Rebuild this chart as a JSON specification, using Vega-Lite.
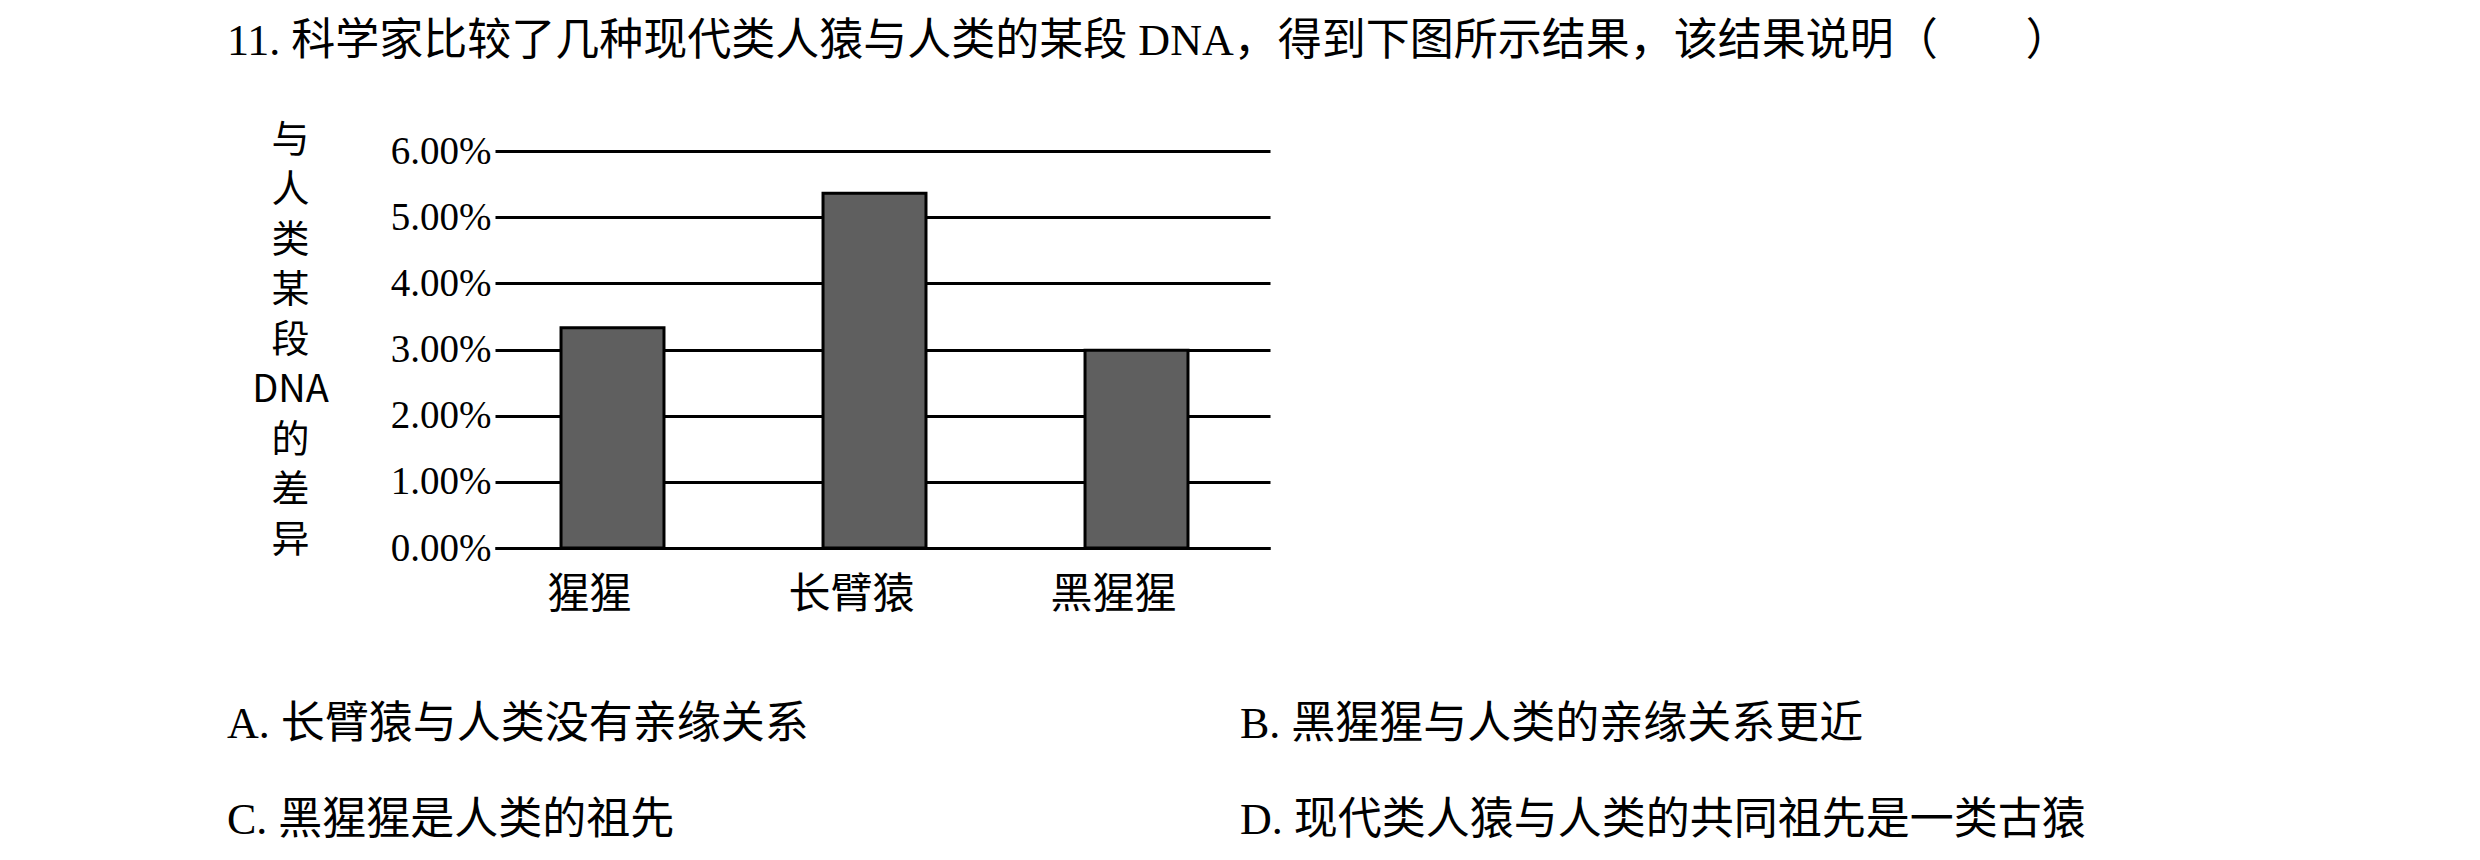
{
  "$schema": "https://vega.github.io/schema/vega-lite/v6.json",
  "background": "white",
  "padding": {"left": 227, "top": 20, "right": 10, "bottom": 10},
  "config": {"view": {"stroke": null}},
  "title": {
    "text": "11. 科学家比较了几种现代类人猿与人类的某段 DNA，得到下图所示结果，该结果说明（　　）",
    "anchor": "start",
    "frame": "bounds",
    "font": "Liberation Serif, Noto Sans CJK SC",
    "fontSize": 44,
    "fontWeight": "normal",
    "color": "black",
    "offset": 57
  },
  "datasets": {
    "bars": [
      {"species": "猩猩", "diff": 0.0333},
      {"species": "长臂猿", "diff": 0.0536},
      {"species": "黑猩猩", "diff": 0.0299}
    ],
    "options": [
      {"label": "A. 长臂猿与人类没有亲缘关系", "col": 0, "row": 0},
      {"label": "B. 黑猩猩与人类的亲缘关系更近", "col": 1, "row": 0},
      {"label": "C. 黑猩猩是人类的祖先", "col": 0, "row": 1},
      {"label": "D. 现代类人猿与人类的共同祖先是一类古猿", "col": 1, "row": 1}
    ]
  },
  "spacing": 88,
  "vconcat": [
    {
      "width": 775,
      "height": 397,
      "data": {"name": "bars"},
      "mark": {"type": "bar", "color": "#5f5f5f", "stroke": "black", "strokeWidth": 3},
      "encoding": {
        "x": {
          "field": "species", "type": "nominal", "sort": null,
          "scale": {"paddingInner": 0.607, "paddingOuter": 0.2825, "align": 0.446},
          "axis": {
            "title": null, "labelAngle": 0, "labelFont": "Noto Sans CJK SC", "labelFontSize": 42,
            "labelColor": "black", "ticks": false, "labelPadding": 26, "labelOffset": -23,
            "domainColor": "black", "domainWidth": 3, "grid": false
          }
        },
        "y": {
          "field": "diff", "type": "quantitative",
          "scale": {"domain": [0, 0.06]},
          "axis": {
            "values": [0, 0.01, 0.02, 0.03, 0.04, 0.05, 0.06],
            "format": ".2%",
            "labelFont": "Liberation Serif", "labelFontSize": 39, "labelColor": "black",
            "ticks": false, "labelPadding": 4, "domain": false,
            "grid": true, "gridColor": "black", "gridWidth": 3, "gridOpacity": 1,
            "title": ["与", "人", "类", "某", "段", "DNA", "的", "差", "异"],
            "titleAngle": 0, "titleFont": "Noto Sans CJK SC", "titleFontSize": 38,
            "titleFontWeight": "normal", "titleLineHeight": 50,
            "titleX": -205, "titleY": -11, "titleAlign": "center", "titleBaseline": "middle",
            "titleColor": "black"
          }
        }
      }
    },
    {
      "width": 800,
      "height": 96,
      "data": {"name": "options"},
      "mark": {"type": "text", "align": "left", "baseline": "middle", "fontSize": 44,
               "font": "Liberation Serif, Noto Sans CJK SC", "color": "black"},
      "encoding": {
        "x": {"field": "col", "type": "quantitative", "scale": {"domain": [0, 1], "range": [-268, 745]}, "axis": null},
        "y": {"field": "row", "type": "quantitative", "scale": {"domain": [0, 1], "range": [0, 96]}, "axis": null},
        "text": {"field": "label"}
      }
    }
  ]
}
